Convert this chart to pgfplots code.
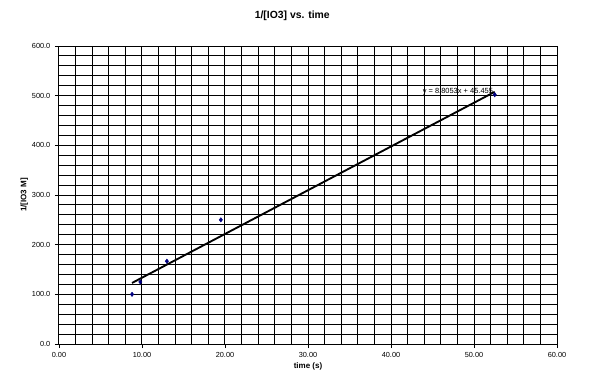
\documentclass[border=0pt]{standalone}
\usepackage{pgfplots}
\pgfplotsset{compat=1.18}
\usepackage{fontspec}
\setmainfont{Liberation Sans}
\begin{document}
\begin{tikzpicture}[x=0.75pt,y=0.75pt]
\begin{axis}[
  scale only axis,
  width=373.5pt, height=223.5pt,
  xmin=0, xmax=60, ymin=0, ymax=600,
  xtick={0,10,...,60}, ytick={0,100,...,600},
  minor xtick={0,2,...,60}, minor ytick={0,20,...,600},
  grid=minor,
  minor grid style={black, line width=0.75pt},
  axis line style={black, line width=0.75pt},
  tick style={black, line width=0.6pt},
  major tick length=3pt, minor tick length=0pt,
  tick align=outside,
  xtick pos=bottom, ytick pos=left,
  /pgf/number format/assume math mode=true,
  xticklabel style={font=\fontsize{5.5}{6}\selectfont, /pgf/number format/.cd, fixed, fixed zerofill, precision=2},
  yticklabel style={font=\fontsize{5.5}{6}\selectfont, /pgf/number format/.cd, fixed, fixed zerofill, precision=1},
  scaled ticks=false,
  xlabel={\textbf{time (s)}},
  ylabel={\textbf{1/[IO3 M]}},
  label style={font=\fontsize{6}{7}\selectfont},
  xlabel style={yshift=3pt},
  ylabel style={yshift=-4pt},
  clip=false,
]
\addplot[only marks, mark=diamond*, mark size=1.6pt, color={rgb,255:red,0;green,0;blue,128}] coordinates {
  (8.8,100) (9.8,125) (13.0,166.7) (19.5,250) (52.5,502)
};
\addplot[black, line width=1.4pt] coordinates {(8.8,122.94) (52.5,507.73)};
\node[anchor=east, font=\fontsize{5.6}{6}\selectfont, inner sep=0.5pt] at (axis cs:52.4,509) {y = 8.8053x + 45.455};
\node[font=\bfseries\fontsize{7.8}{9}\selectfont] at (axis cs:28.1,661) {1/[IO3] vs. time};
\end{axis}
\pgfresetboundingbox
\path (current axis.south west) ++(-44.25pt,-32.25pt) coordinate (bl);
\path (bl) rectangle ++(450pt,290.25pt);
\end{tikzpicture}
\end{document}
